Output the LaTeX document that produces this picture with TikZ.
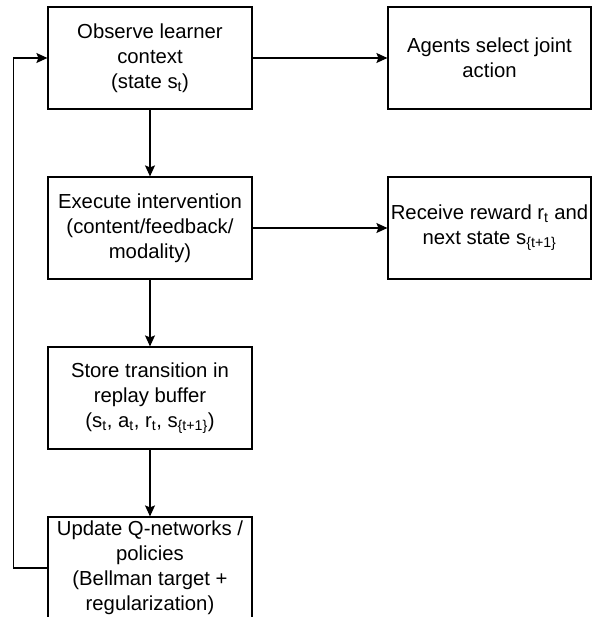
\documentclass[tikz,border=0pt]{standalone}
\usepackage{fontspec}
\setmainfont{Liberation Sans}
\usetikzlibrary{arrows.meta}

\begin{document}
\begin{tikzpicture}[x=1pt, y=-1pt, >={Stealth[length=11pt,width=10pt,inset=2pt]},
	line join=miter, font=\fontsize{20.3}{25}\selectfont,
	stepbox/.style={draw, line width=1.2pt, rectangle, align=center,
		minimum width=204pt, minimum height=102pt, inner sep=2pt},
	flow/.style={->, line width=1.2pt}]
	
	% ===== canvas =====
	\clip (0,0) rectangle (592,617);
	\fill[white] (0,0) rectangle (592,617);
	
	% ===== left column: the learning loop =====
	\node[stepbox] (obs) at (150,58) {Observe learner\\context\\(state s\textsubscript{t})};
	\node[stepbox] (exe) at (150,228) {Execute intervention\\(content/feedback/\\modality)};
	\node[stepbox] (sto) at (150,398) {Store transition in\\replay buffer\\(s\textsubscript{t}, a\textsubscript{t}, r\textsubscript{t}, s\textsubscript{\{t+1\}})};
	\node[stepbox] (upd) at (150,568) {Update Q-networks /\\policies\\(Bellman target +\\regularization)};
	
	% ===== right column: side steps =====
	\node[stepbox, minimum width=203pt] (act) at (489.5,58) {Agents select joint\\action};
	\node[stepbox, minimum width=203pt] (rew) at (489.5,228) {Receive reward r\textsubscript{t} and\\next state s\textsubscript{\{t+1\}}};
	
	% ===== connectors =====
	\draw[flow] (obs) -- (exe);
	\draw[flow] (exe) -- (sto);
	\draw[flow] (sto) -- (upd);
	\draw[flow] (obs) -- (act);
	\draw[flow] (exe) -- (rew);
	
	% back to the start of the loop
	\draw[flow] (upd.west) -- ++(-34,0) |- (obs.west);
	
\end{tikzpicture}
\end{document}
